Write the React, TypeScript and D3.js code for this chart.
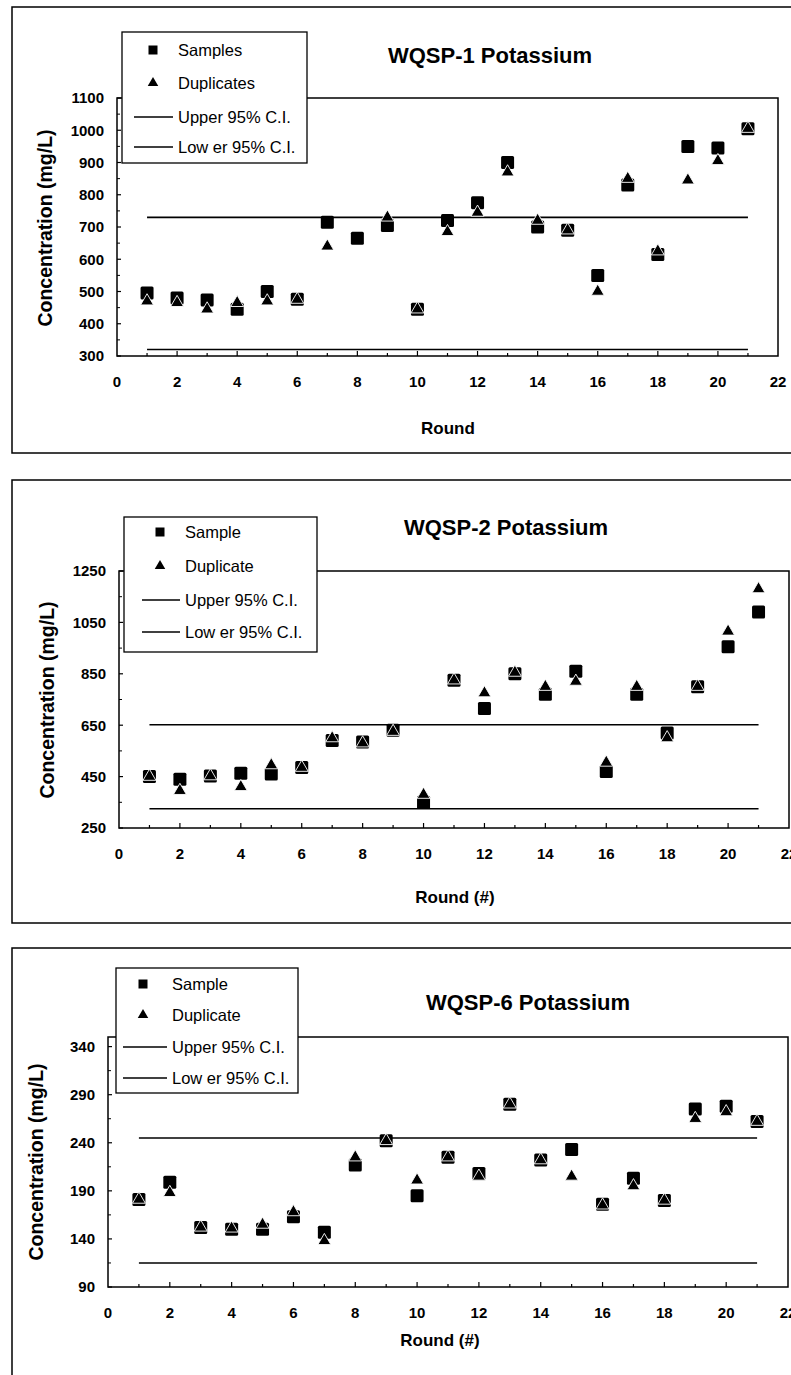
import React from 'react';
import * as d3 from 'd3';

// rounds shared by all three charts
const rounds = [1, 2, 3, 4, 5, 6, 7, 8, 9, 10, 11, 12, 13, 14, 15, 16, 17, 18, 19, 20, 21];
const xTickLabels = [0, 2, 4, 6, 8, 10, 12, 14, 16, 18, 20, 22];

// WQSP-1
const wqsp1Samples = [495, 480, 474, 445, 500, 476, 715, 665, 705, 445, 720, 775, 900, 700, 690, 550, 830, 615, 950, 945, 1005];
const wqsp1Duplicates = [470, 465, 445, 465, 470, 475, 640, null, 730, 445, 685, 745, 870, 720, 690, 500, 850, 625, 845, 905, 1005];
const wqsp1Upper = 730;
const wqsp1Lower = 320;
const wqsp1YTicks = [300, 400, 500, 600, 700, 800, 900, 1000, 1100];

// WQSP-2
const wqsp2Samples = [450, 440, 452, 463, 460, 485, 590, 585, 630, 350, 825, 715, 850, 770, 860, 470, 770, 620, 800, 955, 1090];
const wqsp2Duplicates = [450, 395, 452, 410, 495, 485, 600, 580, 625, 380, 825, 775, 855, 800, 820, 505, 800, 600, 800, 1015, 1180];
const wqsp2Upper = 652;
const wqsp2Lower = 325;
const wqsp2YTicks = [250, 450, 650, 850, 1050, 1250];

// WQSP-6
const wqsp6Samples = [181, 199, 152, 150, 150, 163, 147, 217, 242, 185, 225, 208, 280, 222, 233, 176, 203, 180, 275, 278, 262];
const wqsp6Duplicates = [181, 188, 152, 151, 155, 168, 138, 225, 242, 201, 225, 205, 280, 222, 205, 175, 195, 180, 265, 272, 262];
const wqsp6Upper = 245;
const wqsp6Lower = 115;
const wqsp6YTicks = [90, 140, 190, 240, 290, 340];

const FONT = "Arial, 'Liberation Sans', Helvetica, sans-serif";

type Box = { left: number; top: number; right: number; bottom: number };

type ChartProps = {
  frame: Box;
  plot: Box;
  yDomain: [number, number];
  yTicks: number[];
  title: string;
  titlePos: [number, number];
  legend: { x: number; y: number; w: number; h: number; rows: number[]; markX: number; lineX: [number, number]; textX: number };
  names: string[];
  xLabel: string;
  xLabelPos: [number, number];
  yLabelPos: [number, number];
  samples: (number | null)[];
  duplicates: (number | null)[];
  upper: number;
  lower: number;
};

const triPath = d3.symbol().type(d3.symbolTriangle).size(72)();
const triLegend = d3.symbol().type(d3.symbolTriangle).size(48)();

function Chart(p: ChartProps) {
  const x = d3.scaleLinear().domain([0, 22]).range([p.plot.left, p.plot.right]);
  const y = d3.scaleLinear().domain(p.yDomain).range([p.plot.bottom, p.plot.top]);
  const step = p.yTicks[1] - p.yTicks[0];
  const minor = p.yTicks.map((t) => t + step / 2).filter((t) => t < p.yDomain[1]);
  const xMinor = d3.range(1, 22);
  const lg = p.legend;

  return (
    <g>
      {/* outer frame */}
      <rect x={p.frame.left} y={p.frame.top} width={p.frame.right - p.frame.left} height={p.frame.bottom - p.frame.top}
        fill="none" stroke="#000" strokeWidth={1.5} />
      {/* plot area */}
      <rect x={p.plot.left} y={p.plot.top} width={p.plot.right - p.plot.left} height={p.plot.bottom - p.plot.top}
        fill="none" stroke="#000" strokeWidth={1.5} />

      {/* y ticks */}
      {p.yTicks.map((t) => (
        <g key={'y' + t}>
          <line x1={p.plot.left} x2={p.plot.left + 4} y1={y(t)} y2={y(t)} stroke="#000" strokeWidth={1.2} />
          <text x={p.plot.left - 13} y={y(t)} dy="0.36em" textAnchor="end" fontFamily={FONT} fontWeight="bold" fontSize={15}>{t}</text>
        </g>
      ))}
      {minor.map((t) => (
        <line key={'ym' + t} x1={p.plot.left} x2={p.plot.left + 3} y1={y(t)} y2={y(t)} stroke="#000" strokeWidth={1} />
      ))}

      {/* x ticks */}
      {xMinor.map((t) => (
        <line key={'xm' + t} x1={x(t)} x2={x(t)} y1={p.plot.bottom} y2={p.plot.bottom - (t % 2 === 0 ? 5 : 3)} stroke="#000" strokeWidth={1.2} />
      ))}
      {xTickLabels.map((t) => (
        <text key={'xl' + t} x={x(t)} y={p.plot.bottom + 26} dy="0.36em" textAnchor="middle" fontFamily={FONT} fontWeight="bold" fontSize={15}>{t}</text>
      ))}

      {/* confidence lines */}
      {[p.upper, p.lower].map((v, i) => (
        <line key={'ci' + i} x1={x(1)} x2={x(21)} y1={y(v)} y2={y(v)} stroke="#000" strokeWidth={1.6} />
      ))}

      {/* samples */}
      {rounds.map((r, i) => p.samples[i] == null ? null : (
        <rect key={'s' + r} x={x(r) - 6.5} y={y(p.samples[i] as number) - 6.5} width={13} height={13} rx={1.5} fill="#000" />
      ))}
      {/* duplicates */}
      {rounds.map((r, i) => p.duplicates[i] == null ? null : (
        <path key={'d' + r} d={triPath as string} transform={`translate(${x(r)},${y(p.duplicates[i] as number)})`}
          fill="#000" stroke="#fff" strokeWidth={0.9} />
      ))}

      {/* title */}
      <text x={p.titlePos[0]} y={p.titlePos[1]} dy="0.36em" textAnchor="middle" fontFamily={FONT} fontWeight="bold" fontSize={22}>{p.title}</text>

      {/* axis titles */}
      <text x={p.xLabelPos[0]} y={p.xLabelPos[1]} dy="0.36em" textAnchor="middle" fontFamily={FONT} fontWeight="bold" fontSize={17}>{p.xLabel}</text>
      <text transform={`translate(${p.yLabelPos[0]},${p.yLabelPos[1]}) rotate(-90)`} dy="0.36em" textAnchor="middle"
        fontFamily={FONT} fontWeight="bold" fontSize={19.5}>Concentration (mg/L)</text>

      {/* legend */}
      <g transform={`translate(${lg.x},${lg.y})`}>
        <rect x={0} y={0} width={lg.w} height={lg.h} fill="#fff" stroke="#000" strokeWidth={1.3} />
        <rect x={lg.markX - 4.5} y={lg.rows[0] - 4.5} width={9} height={9} fill="#000" />
        <path d={triLegend as string} transform={`translate(${lg.markX},${lg.rows[1]})`} fill="#000" />
        <line x1={lg.lineX[0]} x2={lg.lineX[1]} y1={lg.rows[2]} y2={lg.rows[2]} stroke="#000" strokeWidth={1.4} />
        <line x1={lg.lineX[0]} x2={lg.lineX[1]} y1={lg.rows[3]} y2={lg.rows[3]} stroke="#000" strokeWidth={1.4} />
        {p.names.map((n, i) => (
          <text key={n} x={lg.textX} y={lg.rows[i]} dy="0.36em" fontFamily={FONT} fontSize={16.5}>{n}</text>
        ))}
      </g>
    </g>
  );
}

export default function App() {
  return (
    <svg width={791} height={1375} style={{ position: 'absolute', left: 0, top: 0, background: '#fff' }}>
      <rect x={0} y={0} width={791} height={1375} fill="#fff" />
      <Chart
        frame={{ left: 12, top: 7, right: 820, bottom: 453 }}
        plot={{ left: 117, top: 98, right: 778, bottom: 356 }}
        yDomain={[300, 1100]}
        yTicks={wqsp1YTicks}
        title="WQSP-1 Potassium"
        titlePos={[490, 55]}
        legend={{ x: 122, y: 32, w: 185, h: 131, rows: [18, 51, 85, 115], markX: 31, lineX: [12, 51], textX: 56 }}
        names={['Samples', 'Duplicates', 'Upper 95% C.I.', 'Low er 95% C.I.']}
        xLabel="Round"
        xLabelPos={[448, 428]}
        yLabelPos={[45, 228]}
        samples={wqsp1Samples}
        duplicates={wqsp1Duplicates}
        upper={wqsp1Upper}
        lower={wqsp1Lower}
      />
      <Chart
        frame={{ left: 12, top: 480, right: 820, bottom: 923 }}
        plot={{ left: 119, top: 571, right: 789, bottom: 828 }}
        yDomain={[250, 1250]}
        yTicks={wqsp2YTicks}
        title="WQSP-2 Potassium"
        titlePos={[506, 527]}
        legend={{ x: 124, y: 517, w: 193, h: 135, rows: [15, 49, 83, 115], markX: 36, lineX: [18, 56], textX: 61 }}
        names={['Sample', 'Duplicate', 'Upper 95% C.I.', 'Low er 95% C.I.']}
        xLabel="Round (#)"
        xLabelPos={[455, 897]}
        yLabelPos={[47, 700]}
        samples={wqsp2Samples}
        duplicates={wqsp2Duplicates}
        upper={wqsp2Upper}
        lower={wqsp2Lower}
      />
      <Chart
        frame={{ left: 12, top: 948, right: 820, bottom: 1400 }}
        plot={{ left: 108, top: 1037, right: 788, bottom: 1287 }}
        yDomain={[90, 350]}
        yTicks={wqsp6YTicks}
        title="WQSP-6 Potassium"
        titlePos={[528, 1002]}
        legend={{ x: 116, y: 968, w: 182, h: 125, rows: [16, 47, 79, 110], markX: 27, lineX: [7, 51], textX: 56 }}
        names={['Sample', 'Duplicate', 'Upper 95% C.I.', 'Low er 95% C.I.']}
        xLabel="Round (#)"
        xLabelPos={[440, 1340]}
        yLabelPos={[36, 1162]}
        samples={wqsp6Samples}
        duplicates={wqsp6Duplicates}
        upper={wqsp6Upper}
        lower={wqsp6Lower}
      />
    </svg>
  );
}
